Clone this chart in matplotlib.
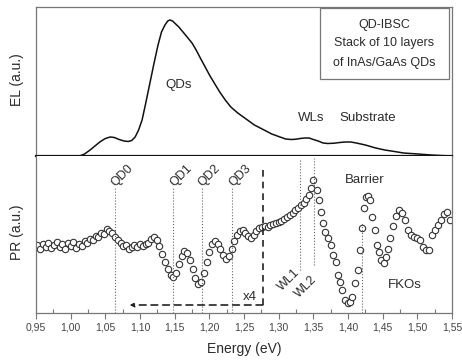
import matplotlib
matplotlib.use("Agg")
import matplotlib.pyplot as plt
from matplotlib.ticker import MultipleLocator, FuncFormatter
from matplotlib.patches import Rectangle

plt.rcParams['font.family'] = ['Liberation Sans', 'DejaVu Sans']

# EL spectrum (arbitrary units)
el_energy = [0.95, 1.013, 1.020, 1.028, 1.035, 1.042, 1.050, 1.057, 1.063, 1.070,
             1.077, 1.083, 1.088, 1.093, 1.098, 1.103, 1.108, 1.114, 1.120, 1.126,
             1.131, 1.136, 1.140, 1.143, 1.147, 1.150, 1.156, 1.162, 1.168, 1.175,
             1.181, 1.187, 1.194, 1.201, 1.208, 1.215, 1.223, 1.231, 1.241, 1.251,
             1.265, 1.279, 1.290, 1.302, 1.310, 1.318, 1.325, 1.331, 1.338, 1.344,
             1.350, 1.357, 1.364, 1.371, 1.380, 1.388, 1.396, 1.404, 1.412, 1.425,
             1.440, 1.453, 1.467, 1.480, 1.501, 1.520, 1.533, 1.55]
el_signal = [0, 0, 2, 6, 10, 14, 17.5, 19, 18.5, 16.5,
             15, 14.5, 15.5, 19, 26, 36, 52, 72, 92, 111,
             124, 131, 135, 136, 135, 133, 129, 124, 119, 113,
             106, 98, 89, 80, 72, 64, 56, 49, 43, 38,
             31, 26, 22, 19, 17, 16.5, 16.8, 17.5, 18, 18,
             16.5, 15, 13, 12.5, 12.8, 13.5, 14, 14, 13, 11,
             8, 6, 4.5, 3, 2, 1, 0.5, 0]

# PR spectrum (arbitrary units, x4 below 1.28 eV)
pr_energy = [0.952, 0.956, 0.960, 0.964, 0.968, 0.972, 0.976, 0.980, 0.984, 0.988,
             0.992, 0.996, 1.000, 1.004, 1.008, 1.012, 1.016, 1.020, 1.024, 1.028,
             1.032, 1.036, 1.040, 1.044, 1.048, 1.052, 1.056, 1.060, 1.064, 1.068,
             1.072, 1.076, 1.080, 1.084, 1.088, 1.092, 1.096, 1.100, 1.104, 1.108,
             1.112, 1.116, 1.120, 1.124, 1.128, 1.132, 1.136, 1.140, 1.144, 1.148,
             1.152, 1.156, 1.160, 1.164, 1.168, 1.172, 1.176, 1.180, 1.184, 1.188,
             1.192, 1.196, 1.200, 1.204, 1.208, 1.212, 1.216, 1.220, 1.224, 1.228,
             1.232, 1.236, 1.240, 1.244, 1.248, 1.252, 1.256, 1.260, 1.264, 1.268,
             1.272, 1.276, 1.280, 1.284, 1.288, 1.292, 1.296, 1.300, 1.304, 1.308,
             1.312, 1.316, 1.320, 1.324, 1.328, 1.332, 1.336, 1.340, 1.344, 1.347,
             1.350, 1.355, 1.358, 1.361, 1.364, 1.367, 1.371, 1.375, 1.378, 1.383,
             1.386, 1.388, 1.391, 1.396, 1.400, 1.403, 1.406, 1.410, 1.414, 1.417,
             1.420, 1.423, 1.426, 1.429, 1.432, 1.435, 1.439, 1.442, 1.445, 1.448,
             1.452, 1.455, 1.458, 1.461, 1.465, 1.469, 1.474, 1.478, 1.482, 1.487,
             1.491, 1.495, 1.500, 1.504, 1.508, 1.513, 1.517, 1.521, 1.525, 1.530,
             1.534, 1.538, 1.543, 1.547]
pr_signal = [68, 64, 69, 66, 70, 65, 68, 71, 66, 69,
             64, 70, 67, 71, 65, 69, 67, 72, 70, 74,
             73, 77, 76, 80, 79, 84, 82, 80, 76, 73,
             70, 67, 68, 64, 66, 68, 66, 69, 67, 69,
             70, 74, 76, 73, 67, 59, 51, 44, 38, 36,
             40, 49, 57, 62, 60, 53, 44, 35, 29, 31,
             40, 51, 61, 69, 72, 69, 64, 58, 54, 57,
             64, 72, 78, 82, 83, 80, 77, 75, 78, 82,
             85, 86, 87, 86, 88, 89, 90, 91, 92, 94,
             96, 98, 100, 103, 105, 108, 110, 114, 118, 125,
             133, 123, 113, 101, 90, 81, 75, 68, 58, 51,
             38, 31, 23, 13, 10, 11, 16, 30, 43, 63,
             85, 105, 116, 117, 113, 96, 83, 68, 61, 53,
             50, 56, 64, 75, 87, 97, 103, 100, 93, 83,
             78, 76, 75, 73, 66, 63, 63, 78, 83, 88,
             93, 99, 101, 93]

# transition markers
qd_labels = ['QD0', 'QD1', 'QD2', 'QD3']
qd_energy = [1.064, 1.148, 1.189, 1.233]
wl_labels = ['WL1', 'WL2']
wl_energy = [1.331, 1.351]
barrier_energy = 1.42
x4_energy = 1.277

ink = '#2b2b2b'
frame = '#777777'

fig = plt.figure(figsize=(4.62, 3.61), dpi=100)
ax1 = fig.add_axes([36/462, 1-156/361, 416/462, 149/361])
ax2 = fig.add_axes([36/462, 1-313/361, 416/462, 157/361], sharex=ax1)

# ---- EL panel
ax1.plot(el_energy, el_signal, color='#111111', lw=1.1)
ax1.set_xlim(0.95, 1.55)
ax1.set_ylim(0, 149)
ax1.set_yticks([])
ax1.tick_params(axis='x', which='both', bottom=False, labelbottom=False)
for s in ['top', 'left', 'right']:
    ax1.spines[s].set_color(frame)
    ax1.spines[s].set_linewidth(0.9)
ax1.spines['bottom'].set_color('#111111')
ax1.spines['bottom'].set_linewidth(1.6)

ax1.text(1.155, 71, 'QDs', fontsize=9.5, color=ink, ha='center', va='center')
ax1.text(1.347, 38, 'WLs', fontsize=9.5, color=ink, ha='center', va='center')
ax1.text(1.429, 38, 'Substrate', fontsize=9.5, color=ink, ha='center', va='center')

ax1.add_patch(Rectangle((0.683, 0.517), 0.310, 0.476, transform=ax1.transAxes,
                        fill=False, edgecolor=frame, lw=0.9))
ax1.text(0.837, 0.879, 'QD-IBSC', transform=ax1.transAxes, fontsize=9,
         color=ink, ha='center', va='center')
ax1.text(0.837, 0.758, 'Stack of 10 layers', transform=ax1.transAxes, fontsize=9,
         color=ink, ha='center', va='center')
ax1.text(0.837, 0.624, 'of InAs/GaAs QDs', transform=ax1.transAxes, fontsize=9,
         color=ink, ha='center', va='center')

# ---- PR panel
ax2.plot(pr_energy, pr_signal, ls='none', marker='o', ms=4.6, mfc='white',
         mec='#333333', mew=0.8)
ax2.set_ylim(0, 157)
ax2.set_yticks([])
ax2.spines['top'].set_visible(False)
for s in ['bottom', 'left', 'right']:
    ax2.spines[s].set_color(frame)
    ax2.spines[s].set_linewidth(0.9)

for lab, e in zip(qd_labels, qd_energy):
    ax2.plot([e, e], [0, 126], ls=':', color='#666666', lw=0.8)
    ax2.text(e + 0.011, 137, lab, rotation=45, fontsize=9, color=ink,
             ha='center', va='center')

ax2.plot([wl_energy[0]] * 2, [43, 155], ls=':', color='#666666', lw=0.8)
ax2.plot([wl_energy[1]] * 2, [48, 155], ls=':', color='#666666', lw=0.8)
ax2.text(1.315, 33, wl_labels[0], rotation=45, fontsize=9, color=ink,
         ha='center', va='center')
ax2.text(1.339, 26, wl_labels[1], rotation=45, fontsize=9, color=ink,
         ha='center', va='center')

ax2.plot([barrier_energy] * 2, [0, 90], ls=':', color='#666666', lw=0.8)
ax2.text(1.4235, 133, 'Barrier', fontsize=9.5, color=ink, ha='center', va='center')
ax2.text(1.482, 28, 'FKOs', fontsize=9.5, color=ink, ha='center', va='center')

# x4 region marker
ax2.plot([x4_energy] * 2, [8, 146], ls=(0, (4, 3)), color='#222222', lw=1.2)
ax2.annotate('', xy=(1.085, 8), xytext=(x4_energy, 8),
             arrowprops=dict(arrowstyle='-|>', ls=(0, (4, 3)), color='#222222',
                             lw=1.2, mutation_scale=6, shrinkA=0, shrinkB=0))
ax2.text(1.259, 16, 'x4', fontsize=9.5, color=ink, ha='center', va='center')

ax2.xaxis.set_major_locator(MultipleLocator(0.05))
ax2.xaxis.set_minor_locator(MultipleLocator(0.025))
ax2.xaxis.set_major_formatter(FuncFormatter(lambda v, p: f'{v:.2f}'.replace('.', ',')))
ax2.tick_params(axis='x', which='major', direction='out', length=4, width=0.8,
                color=frame, labelsize=7.5, labelcolor='#444444', pad=3)
ax2.tick_params(axis='x', which='minor', direction='in', length=3, width=0.8,
                color=frame)
ax2.set_xlim(0.95, 1.55)

fig.text(244/462, 1-349/361, 'Energy (eV)', fontsize=10, color=ink,
         ha='center', va='center')
fig.text(17/462, 1-80/361, 'EL (a.u.)', fontsize=10, color=ink, rotation=90,
         ha='center', va='center')
fig.text(17/462, 1-232/361, 'PR (a.u.)', fontsize=10, color=ink, rotation=90,
         ha='center', va='center')

fig.savefig('out.png', dpi=100)
